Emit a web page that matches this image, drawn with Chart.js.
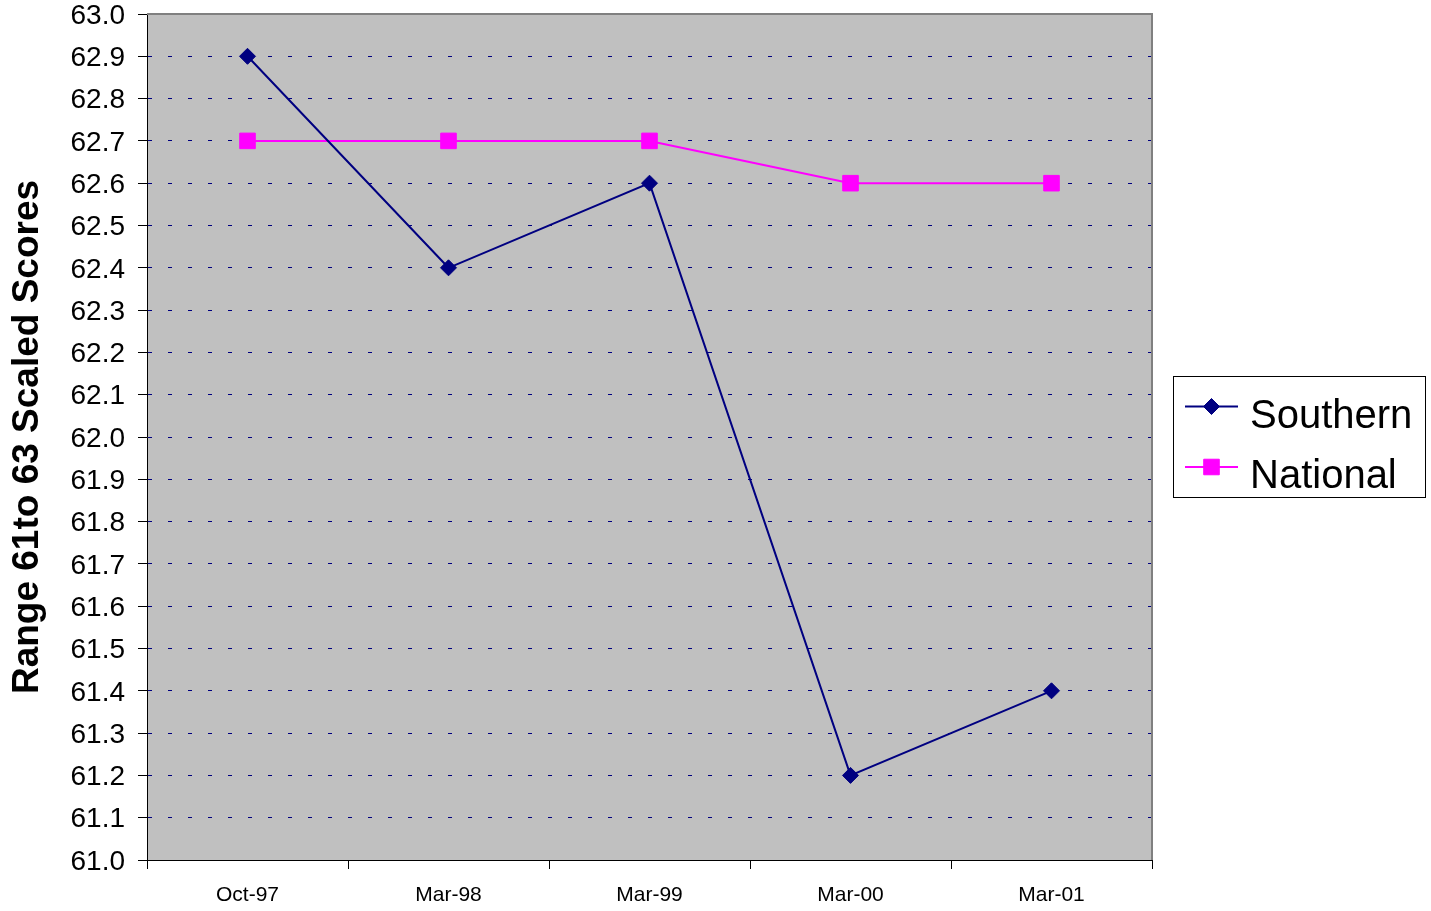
<!DOCTYPE html>
<html>
<head>
<meta charset="utf-8">
<script src="https://cdn.jsdelivr.net/npm/chart.js@4/dist/chart.umd.min.js"></script>
<style>
  html, body { margin: 0; padding: 0; background: #ffffff; }
  #wrap { width: 1431px; height: 911px; }
</style>
</head>
<body>
<div id="wrap"><canvas id="c" width="1431" height="911"></canvas></div>
<script>
// Survey dates and scaled scores (range 61 to 63)
const categories = ['Oct-97', 'Mar-98', 'Mar-99', 'Mar-00', 'Mar-01'];
const southern = [62.9, 62.4, 62.6, 61.2, 61.4];
const national = [62.7, 62.7, 62.7, 62.6, 62.6];
const yMin = 61.0;
const yMax = 63.0;
const yStep = 0.1;
const yTitle = 'Range 61to 63 Scaled Scores';

const FONT = '"Liberation Sans", Arial, Helvetica, sans-serif';

// Gray plot background plus the gray frame on the top and right edges
const plotFrame = {
  id: 'plotFrame',
  beforeDraw(chart) {
    const { ctx, chartArea: a } = chart;
    ctx.save();
    ctx.fillStyle = '#c0c0c0';
    ctx.fillRect(a.left, a.top, a.right - a.left, a.bottom - a.top);
    ctx.restore();
  },
  afterDatasetsDraw(chart) {
    const { ctx, chartArea: a } = chart;
    ctx.save();
    ctx.strokeStyle = '#808080';
    ctx.lineWidth = 2;
    ctx.beginPath();
    ctx.moveTo(a.left, a.top);
    ctx.lineTo(a.right, a.top);
    ctx.lineTo(a.right, a.bottom);
    ctx.stroke();
    ctx.restore();
  }
};

// Boxed legend to the right of the plot
const sideLegend = {
  id: 'sideLegend',
  afterDraw(chart) {
    const { ctx } = chart;
    const box = { x: 1173.5, y: 376.5, w: 252, h: 121 };
    ctx.save();
    ctx.fillStyle = '#ffffff';
    ctx.fillRect(box.x, box.y, box.w, box.h);
    ctx.strokeStyle = '#000000';
    ctx.lineWidth = 1;
    ctx.strokeRect(box.x, box.y, box.w, box.h);
    const rows = [406.5, 467];
    chart.data.datasets.forEach((ds, i) => {
      const y = rows[i];
      ctx.strokeStyle = ds.borderColor;
      ctx.lineWidth = 2;
      ctx.beginPath();
      ctx.moveTo(1185, y);
      ctx.lineTo(1238, y);
      ctx.stroke();
      ctx.fillStyle = ds.pointBackgroundColor;
      ctx.strokeStyle = ds.pointBorderColor;
      ctx.lineWidth = 1;
      Chart.helpers.drawPoint(ctx, { pointStyle: ds.pointStyle, radius: ds.pointRadius, borderWidth: 1, rotation: 0 }, 1211.5, y);
      ctx.fillStyle = '#000000';
      ctx.font = '40px ' + FONT;
      ctx.textAlign = 'left';
      ctx.textBaseline = 'middle';
      ctx.fillText(ds.label, 1250, y + 10);
    });
    ctx.restore();
  }
};

new Chart(document.getElementById('c'), {
  type: 'line',
  data: {
    labels: categories,
    datasets: [
      {
        label: 'Southern',
        data: southern,
        borderColor: '#000080',
        backgroundColor: '#000080',
        borderWidth: 2,
        pointStyle: 'rectRot',
        pointRadius: 8,
        pointBackgroundColor: '#000080',
        pointBorderColor: '#000080',
        pointBorderWidth: 1,
        tension: 0
      },
      {
        label: 'National',
        data: national,
        borderColor: '#ff00ff',
        backgroundColor: '#ff00ff',
        borderWidth: 2,
        pointStyle: 'rect',
        pointRadius: 11,
        pointBackgroundColor: '#ff00ff',
        pointBorderColor: '#ff00ff',
        pointBorderWidth: 1,
        tension: 0
      }
    ]
  },
  options: {
    responsive: false,
    animation: false,
    devicePixelRatio: 1,
    layout: { padding: { left: 0, top: 14, right: 279, bottom: 0 } },
    plugins: {
      legend: { display: false },
      tooltip: { enabled: false }
    },
    scales: {
      x: {
        type: 'category',
        offset: true,
        afterFit(scale) {
          scale.height = 51;
          scale.paddingLeft = 0;
          scale.paddingRight = 0;
        },
        grid: {
          offset: true,
          drawOnChartArea: false,
          drawTicks: true,
          tickLength: 9,
          tickColor: '#000000',
          tickWidth: 1
        },
        border: { display: true, color: '#000000', width: 1 },
        ticks: {
          color: '#000000',
          font: { family: FONT, size: 21 },
          padding: 14,
          maxRotation: 0
        }
      },
      y: {
        min: yMin,
        max: yMax,
        afterFit(scale) {
          scale.width = 147;
          scale.paddingTop = 0;
          scale.paddingBottom = 0;
        },
        grid: {
          color: (ctx) => (ctx.tick && (Math.abs(ctx.tick.value - yMin) < 1e-6 || Math.abs(ctx.tick.value - yMax) < 1e-6)) ? 'rgba(0,0,0,0)' : '#000080',
          lineWidth: 1,
          drawTicks: true,
          tickLength: 9,
          tickColor: '#000000',
          tickWidth: 1,
          tickBorderDash: []
        },
        border: { display: true, color: '#000000', width: 1, dash: [4, 16] },
        ticks: {
          stepSize: yStep,
          color: '#000000',
          font: { family: FONT, size: 28 },
          padding: 13,
          labelOffset: 2,
          callback: (v) => Number(v).toFixed(1)
        },
        title: {
          display: true,
          text: yTitle,
          color: '#000000',
          font: { family: FONT, size: 37, weight: 'bold' },
          padding: { top: 6, bottom: 0 }
        }
      }
    }
  },
  plugins: [plotFrame, sideLegend]
});
</script>
</body>
</html>
